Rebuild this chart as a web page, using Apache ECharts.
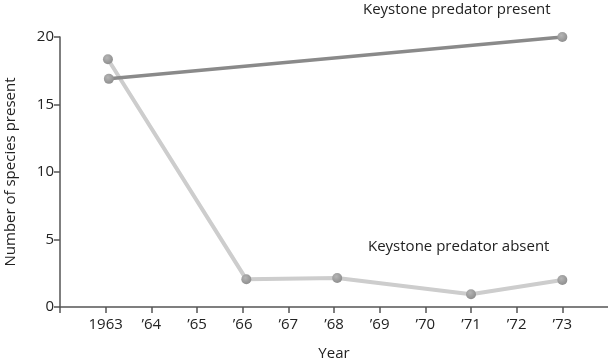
<!DOCTYPE html>
<html><head><meta charset="utf-8">
<script src="https://cdn.jsdelivr.net/npm/echarts@6/dist/echarts.min.js"></script>
<style>html,body{margin:0;padding:0;background:#fff}#c{width:608px;height:361px}</style>
</head><body><div id="c"></div>
<script>
var years = [1962,1963,1964,1965,1966,1967,1968,1969,1970,1971,1972,1973,1974];
var yearLabels = ['', '1963', '\u201964', '\u201965', '\u201966', '\u201967', '\u201968', '\u201969', '\u201970', '\u201971', '\u201972', '\u201973', ''];
var presentX = [1963.07, 1973];
var presentY = [16.9, 20];
var absentX = [1963.05, 1966.08, 1968.07, 1971, 1973];
var absentY = [18.35, 2.05, 2.15, 0.95, 2.0];
var yTicks = [0, 5, 10, 15, 20];

function pairs(xs, ys){ return xs.map(function(x,i){return [x, ys[i]];}); }
var tickYears = years.slice(0, years.length-1);
var font = '"Open Sans", sans-serif';
var chart = echarts.init(document.getElementById('c'));
var pointStyle = {color: new echarts.graphic.RadialGradient(0.4,0.35,0.7,[{offset:0,color:'#b5b5b5'},{offset:1,color:'#8c8c8c'}])};
chart.setOption({
  animation:false,
  grid:{left:60, right:0, top:37, bottom:54, containLabel:false, outerBoundsMode:'none'},
  xAxis:{type:'value', min:years[0], max:years[years.length-1], interval:1,
    axisLine:{lineStyle:{color:'#555', width:1.5}},
    axisTick:{show:true, length:6, lineStyle:{color:'#555', width:1.5}, customValues:tickYears},
    splitLine:{show:false},
    axisLabel:{fontFamily:font, fontSize:15, color:'#222', margin:10, customValues:tickYears,
      formatter:function(v){var i=years.indexOf(Math.round(v)); return i>=0?yearLabels[i]:'';}},
    name:'Year', nameLocation:'middle', nameGap:39,
    nameTextStyle:{fontFamily:font, fontSize:15, color:'#222'}},
  yAxis:{type:'value', min:yTicks[0], max:yTicks[yTicks.length-1], interval:5,
    axisLine:{show:true, lineStyle:{color:'#555', width:1.5}},
    axisTick:{show:true, length:6, lineStyle:{color:'#555', width:1.5}},
    splitLine:{show:false},
    axisLabel:{fontFamily:font, fontSize:15, color:'#222', margin:6},
    name:'Number of species present', nameLocation:'middle', nameGap:42,
    nameTextStyle:{fontFamily:font, fontSize:15, color:'#222'}},
  series:[
    {type:'line', data:pairs(absentX, absentY), symbol:'circle', symbolSize:10,
      lineStyle:{color:'#cdcdcd', width:4}, itemStyle:pointStyle, z:2},
    {type:'line', data:pairs(presentX, presentY), symbol:'circle', symbolSize:10,
      lineStyle:{color:'#8a8a8a', width:3.5}, itemStyle:pointStyle, z:3}
  ],
  graphic:[
    {type:'text', left:363, top:2, style:{text:'Keystone predator present', font:'15px '+font, fill:'#222'}},
    {type:'text', left:368, top:239, style:{text:'Keystone predator absent', font:'15px '+font, fill:'#222'}}
  ]
});
</script></body></html>
